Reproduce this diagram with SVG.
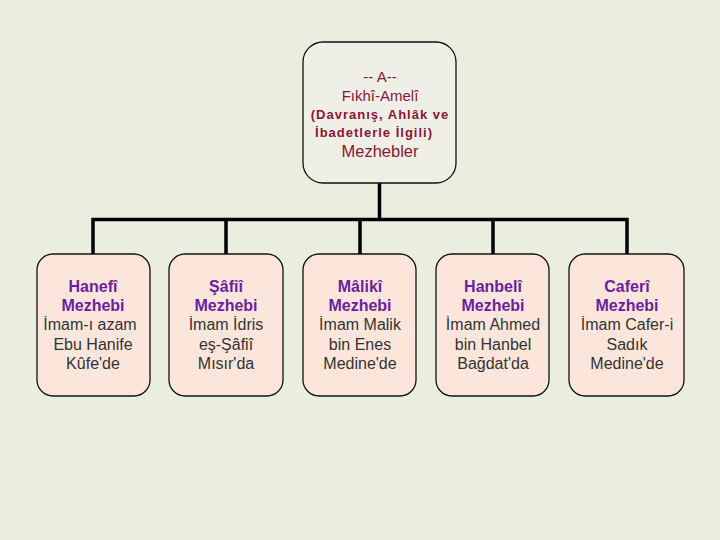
<svg xmlns="http://www.w3.org/2000/svg" width="720" height="540" viewBox="0 0 720 540">
<style>
.bg{fill:#ebeedf}
.top{fill:#f0efe5;stroke:#111;stroke-width:1.3}
.box{fill:#fce6dc;stroke:#111;stroke-width:1.3}
.conn{fill:none;stroke:#000;stroke-width:3.5;stroke-linejoin:miter}
text{font-family:"Liberation Sans",Arial,sans-serif;text-anchor:middle}
.t1{fill:#8a1538;font-size:15px}
.t3{fill:#8a1538;font-size:16.5px}
.t2{fill:#8a1538;font-size:13px;font-weight:bold;letter-spacing:1px}
.h{fill:#6a1fa0;font-size:16px;font-weight:bold}
.r{fill:#333;font-size:16px}
</style>
<rect class="bg" x="0" y="0" width="720" height="540"/>
<g id="connectors">
<path class="conn" d="M379.5 183 V219.5 M93 254 V219.5 H627 V254 M226 219.5 V254 M360 219.5 V254 M493 219.5 V254"/>
</g>
<g id="root">
<rect class="top" x="303" y="42" width="153" height="141" rx="20"/>
<text class="t1" x="380" y="82">-- A--</text>
<text class="t1" x="380" y="101">Fıkhî-Amelî</text>
<text class="t2" x="380" y="119">(Davranış, Ahlâk ve</text>
<text class="t2" x="374" y="137">İbadetlerle İlgili)</text>
<text class="t3" x="380" y="157">Mezhebler</text>
</g>
<g id="hanefi">
<rect class="box" x="37" y="254" width="113" height="142" rx="16"/>
<text class="h" x="93" y="292">Hanefî</text>
<text class="h" x="93" y="311">Mezhebi</text>
<text class="r" x="90" y="330">İmam-ı azam</text>
<text class="r" x="93" y="350">Ebu Hanife</text>
<text class="r" x="93" y="369">Kûfe'de</text>
</g>
<g id="safii">
<rect class="box" x="169" y="254" width="114" height="142" rx="16"/>
<text class="h" x="226" y="292">Şâfiî</text>
<text class="h" x="226" y="311">Mezhebi</text>
<text class="r" x="226" y="330">İmam İdris</text>
<text class="r" x="226" y="350">eş-Şâfiî</text>
<text class="r" x="226" y="369">Mısır'da</text>
</g>
<g id="maliki">
<rect class="box" x="303" y="254" width="113" height="142" rx="16"/>
<text class="h" x="360" y="292">Mâlikî</text>
<text class="h" x="360" y="311">Mezhebi</text>
<text class="r" x="360" y="330">İmam Malik</text>
<text class="r" x="360" y="350">bin Enes</text>
<text class="r" x="360" y="369">Medine'de</text>
</g>
<g id="hanbeli">
<rect class="box" x="436" y="254" width="113" height="142" rx="16"/>
<text class="h" x="493" y="292">Hanbelî</text>
<text class="h" x="493" y="311">Mezhebi</text>
<text class="r" x="493" y="330">İmam Ahmed</text>
<text class="r" x="493" y="350">bin Hanbel</text>
<text class="r" x="493" y="369">Bağdat'da</text>
</g>
<g id="caferi">
<rect class="box" x="569" y="254" width="115" height="142" rx="16"/>
<text class="h" x="627" y="292">Caferî</text>
<text class="h" x="627" y="311">Mezhebi</text>
<text class="r" x="627" y="330">İmam Cafer-i</text>
<text class="r" x="627" y="350">Sadık</text>
<text class="r" x="627" y="369">Medine'de</text>
</g>
</svg>
